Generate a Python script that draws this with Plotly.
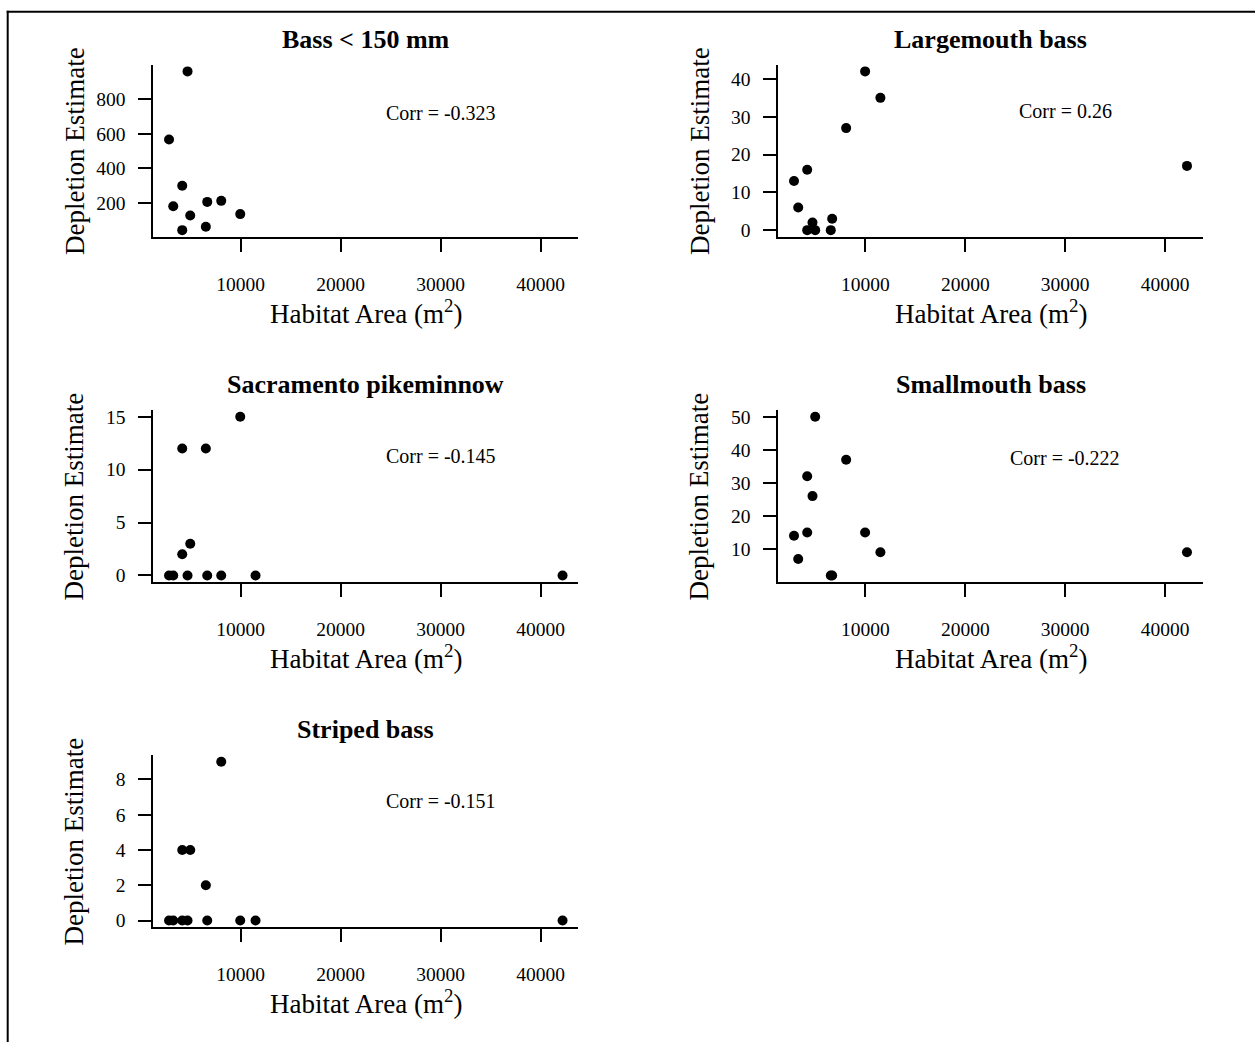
import plotly.graph_objects as go

# ---------------- data ----------------
habitat_area = [2850, 3270, 4170, 4170, 4700, 4970, 6530, 6670, 8070, 9970, 11500, 42200]
bass_lt150   = [568, 181, 300, 42, 963, 127, 62, 206, 212, 135, None, None]
largemouth   = [13, 6, 16, 0, 2, 0, 0, 3, 27, 42, 35, 17]
pikeminnow   = [0, 0, 12, 2, 0, 3, 12, 0, 0, 15, 0, 0]
smallmouth   = [14, 7, 32, 15, 26, 50, 2, 2, 37, 15, 9, 9]
striped      = [0, 0, 4, 0, 0, 4, 2, 0, 9, 0, 0, 0]

panel_titles = ["Bass &lt; 150 mm", "Largemouth bass", "Sacramento pikeminnow",
                "Smallmouth bass", "Striped bass"]
corr_labels  = ["Corr = -0.323", "Corr = 0.26", "Corr = -0.145", "Corr = -0.222", "Corr = -0.151"]
x_ticks      = [10000, 20000, 30000, 40000]
y_ticks      = [[200, 400, 600, 800], [0, 10, 20, 30, 40], [0, 5, 10, 15],
                [10, 20, 30, 40, 50], [0, 2, 4, 6, 8]]
x_label = "Habitat Area (m<sup>2</sup>)"
y_label = "Depletion Estimate"

series = [bass_lt150, largemouth, pikeminnow, smallmouth, striped]

# ---------------- layout helpers ----------------
W, H = 1255, 1046
FONT = "Liberation Serif"
col_px = [(153.3, 578.3), (778.3, 1202.7)]
row_px = [(61.5, 234.3), (409.5, 582.3), (757.2, 930.0)]

def fx(p):
    return p / W

def fy(p):
    return 1 - p / H

def r_range(vals):
    v = [a for a in vals if a is not None]
    lo, hi = min(v), max(v)
    d = hi - lo
    return [lo - 0.04 * d, hi + 0.04 * d]

xr = r_range(habitat_area)

fig = go.Figure()
annotations = []
layout = {}

for i, vals in enumerate(series):
    r, c = divmod(i, 2)
    n = i + 1
    xa = "x" if n == 1 else f"x{n}"
    ya = "y" if n == 1 else f"y{n}"
    xs = [xv for xv, yv in zip(habitat_area, vals) if yv is not None]
    ys = [yv for yv in vals if yv is not None]
    fig.add_trace(go.Scatter(x=xs, y=ys, xaxis=xa, yaxis=ya, mode="markers",
                             marker=dict(color="black", size=10, line=dict(width=0)),
                             showlegend=False, hoverinfo="skip"))
    x0, x1 = col_px[c]
    y0, y1 = row_px[r]
    yr = r_range(vals)
    common = dict(showgrid=False, zeroline=False, showline=True, linecolor="black",
                  linewidth=2, ticks="outside", ticklen=13, tickwidth=2, tickcolor="black",
                  tickfont=dict(family=FONT, size=19.5, color="black"))
    layout[f"xaxis{'' if n == 1 else n}"] = dict(
        domain=[fx(x0), fx(x1)], anchor=ya, range=xr,
        tickvals=x_ticks, ticktext=[str(t) for t in x_ticks],
        ticklabelstandoff=16, **common)
    layout[f"yaxis{'' if n == 1 else n}"] = dict(
        domain=[fy(y1), fy(y0)], anchor=xa, range=yr,
        tickvals=y_ticks[i], ticktext=[str(t) for t in y_ticks[i]],
        ticklabelstandoff=9, **common)

    cx = (x0 + x1) / 2
    cy = (y0 + y1) / 2
    annotations.append(dict(text="<b>" + panel_titles[i] + "</b>", x=fx(cx), y=fy(y0 - 26),
                            xref="paper", yref="paper", showarrow=False,
                            xanchor="center", yanchor="middle",
                            font=dict(family=FONT, size=26, color="black")))
    annotations.append(dict(text=x_label, x=fx(cx), y=fy(y1 + 76),
                            xref="paper", yref="paper", showarrow=False,
                            xanchor="center", yanchor="middle",
                            font=dict(family=FONT, size=27, color="black")))
    annotations.append(dict(text=y_label, x=fx(x0 - 79), y=fy(cy),
                            xref="paper", yref="paper", showarrow=False, textangle=-90,
                            xanchor="center", yanchor="middle",
                            font=dict(family=FONT, size=27, color="black")))
    ymax = max(ys)
    annotations.append(dict(text=corr_labels[i], x=30000, y=0.75 * ymax,
                            xref=xa, yref=ya, showarrow=False,
                            xanchor="center", yanchor="middle",
                            font=dict(family=FONT, size=20, color="black")))

shapes = [
    dict(type="line", xref="paper", yref="paper", x0=fx(6.7), x1=1, y0=fy(7.7), y1=fy(7.7),
         line=dict(color="black", width=2)),
    dict(type="line", xref="paper", yref="paper", x0=fx(7.7), x1=fx(7.7), y0=fy(6.7), y1=0,
         line=dict(color="black", width=2)),
]

fig.update_layout(width=W, height=H, margin=dict(l=0, r=0, t=0, b=0),
                  paper_bgcolor="white", plot_bgcolor="white",
                  annotations=annotations, shapes=shapes, **layout)

fig.write_html(
    "out.html",
    config={"displayModeBar": False},
    post_script=(
        "document.body.style.margin='0';document.body.style.overflow='hidden';"
        "var gd=document.querySelector('.plotly-graph-div');"
        "gd.style.position='absolute';gd.style.left='0px';gd.style.top='0px';"
    ),
)
